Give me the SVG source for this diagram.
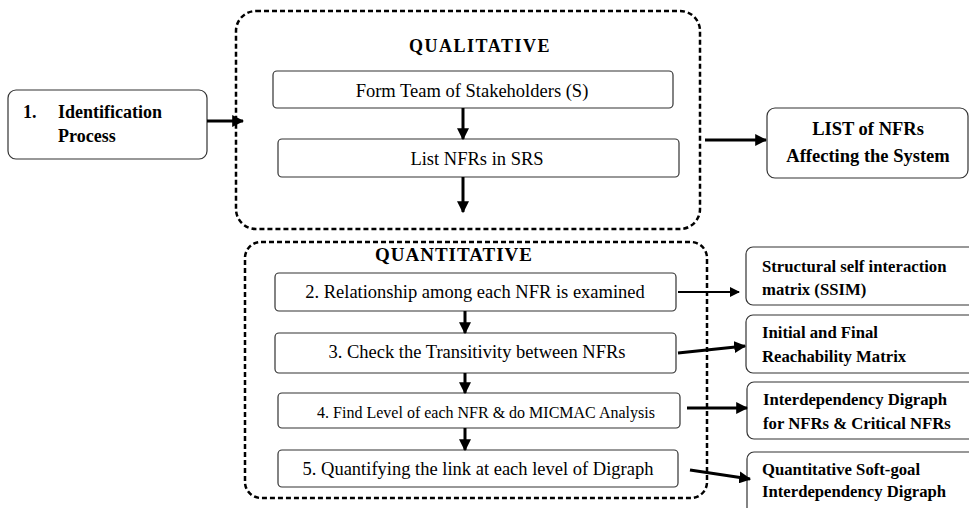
<svg xmlns="http://www.w3.org/2000/svg" width="969" height="508" viewBox="0 0 969 508">
<style>
.bg{fill:#fff}
.box{fill:#fff;stroke:#333;stroke-width:1.2}
.dash{fill:none;stroke:#000;stroke-width:2.5;stroke-dasharray:5 3}
.t{font-family:"Liberation Serif","Times New Roman",serif;fill:#000}
.b{font-weight:bold}
.c{text-anchor:middle}
.ln{stroke:#000;stroke-width:3;fill:none}
.ln2{stroke:#000;stroke-width:2;fill:none}
</style>
<defs>
<marker id="ah" viewBox="0 0 10 10" refX="9" refY="5" markerWidth="4" markerHeight="4" orient="auto" markerUnits="strokeWidth">
<path d="M0,0 L10,5 L0,10 z" fill="#000"/>
</marker>
<marker id="ah2" viewBox="0 0 10 10" refX="9" refY="5" markerWidth="6" markerHeight="5" orient="auto" markerUnits="strokeWidth">
<path d="M0,0 L10,5 L0,10 z" fill="#000"/>
</marker>
</defs>
<rect class="bg" x="0" y="0" width="969" height="508"/>

<g id="qualitative">
<rect class="dash" x="236" y="11" width="464" height="218" rx="20"/>
<text class="t b c" x="480" y="52" font-size="18" letter-spacing="1.5">QUALITATIVE</text>
</g>
<g id="quantitative">
<rect class="dash" x="245" y="242" width="462" height="256" rx="16"/>
<text class="t b c" x="454" y="261" font-size="19" letter-spacing="1">QUANTITATIVE</text>
</g>

<g id="n-identification">
<rect class="box" x="8" y="90" width="199" height="69" rx="8"/>
<text class="t b" x="23" y="118" font-size="18">1.</text>
<text class="t b" x="58" y="118" font-size="18">Identification</text>
<text class="t b" x="58" y="142" font-size="18">Process</text>
</g>

<g id="n-formteam">
<rect class="box" x="273" y="71" width="400" height="37" rx="4"/>
<text class="t c" x="472" y="97" font-size="18.5">Form Team of Stakeholders (S)</text>
</g>
<g id="n-listnfrs">
<rect class="box" x="278" y="139" width="401" height="38" rx="4"/>
<text class="t c" x="477" y="165" font-size="18.5">List NFRs in SRS</text>
</g>

<g id="n-listaffecting">
<rect class="box" x="767" y="108" width="201" height="70" rx="8"/>
<text class="t b c" x="868" y="135" font-size="18.5">LIST of NFRs</text>
<text class="t b c" x="868" y="162" font-size="18.5">Affecting the System</text>
</g>

<g id="n-step2">
<rect class="box" x="275" y="273" width="401" height="38" rx="4"/>
<text class="t c" x="475" y="298" font-size="18.5">2. Relationship among each NFR is examined</text>
</g>
<g id="n-step3">
<rect class="box" x="275" y="333" width="401" height="40" rx="4"/>
<text class="t c" x="477" y="358" font-size="18.5">3. Check the Transitivity between NFRs</text>
</g>
<g id="n-step4">
<rect class="box" x="278" y="393" width="402" height="35" rx="4"/>
<text class="t c" x="486" y="418" font-size="16">4. Find Level of each NFR &amp; do MICMAC Analysis</text>
</g>
<g id="n-step5">
<rect class="box" x="278" y="450" width="400" height="37" rx="4"/>
<text class="t c" x="478" y="475" font-size="18.5">5. Quantifying the link at each level of Digraph</text>
</g>

<g id="n-ssim">
<rect class="box" x="746" y="247" width="230" height="58" rx="7"/>
<text class="t b" x="762" y="272" font-size="16.7">Structural self interaction</text>
<text class="t b" x="762" y="295" font-size="16.7">matrix (SSIM)</text>
</g>
<g id="n-reach">
<rect class="box" x="746" y="315" width="230" height="58" rx="7"/>
<text class="t b" x="762" y="338" font-size="16.7">Initial and Final</text>
<text class="t b" x="762" y="362" font-size="16.7">Reachability Matrix</text>
</g>
<g id="n-digraph">
<rect class="box" x="747" y="382" width="230" height="57" rx="7"/>
<text class="t b" x="763" y="405" font-size="16.7">Interdependency Digraph</text>
<text class="t b" x="763" y="429" font-size="16.7">for NFRs &amp; Critical NFRs</text>
</g>
<g id="n-qsig">
<rect class="box" x="747" y="452" width="230" height="64" rx="7"/>
<text class="t b" x="762" y="475" font-size="16.7">Quantitative Soft-goal</text>
<text class="t b" x="762" y="497" font-size="16.7">Interdependency Digraph</text>
</g>

<g id="connectors">
<line class="ln" x1="207" y1="121" x2="243" y2="121" marker-end="url(#ah)"/>
<line class="ln" x1="463" y1="108" x2="463" y2="139" marker-end="url(#ah)"/>
<line class="ln" x1="463" y1="177" x2="463" y2="212" marker-end="url(#ah)"/>
<line class="ln" x1="705" y1="140" x2="766" y2="140" marker-end="url(#ah)"/>
<line class="ln" x1="465" y1="311" x2="465" y2="333" marker-end="url(#ah)"/>
<line class="ln" x1="465" y1="373" x2="465" y2="393" marker-end="url(#ah)"/>
<line class="ln" x1="465" y1="428" x2="465" y2="450" marker-end="url(#ah)"/>
<line class="ln2" x1="678" y1="292" x2="739" y2="292" marker-end="url(#ah2)"/>
<line class="ln" x1="678" y1="353" x2="745" y2="346" marker-end="url(#ah)"/>
<line class="ln" x1="687" y1="408" x2="747" y2="408" marker-end="url(#ah)"/>
<line class="ln" x1="690" y1="470" x2="750" y2="479" marker-end="url(#ah)"/>
</g>
</svg>
